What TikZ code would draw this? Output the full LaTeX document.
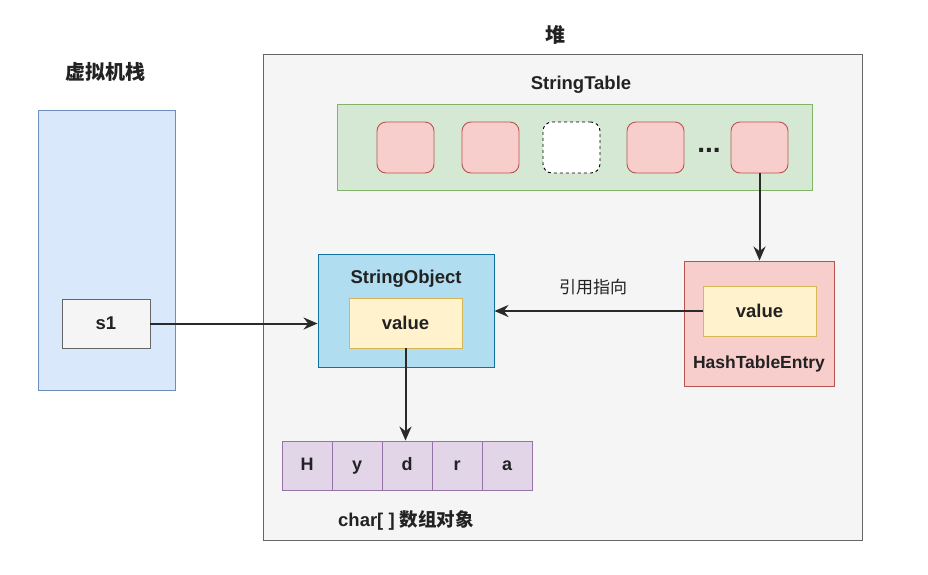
\documentclass[tikz,border=0pt]{standalone}
\usepackage{fontspec}
\setmainfont{Liberation Sans}
\newfontfamily\cjk{Noto Sans CJK SC}
\usetikzlibrary{arrows.meta}
\definecolor{stackfill}{HTML}{DAE8FC}
\definecolor{stackline}{HTML}{6C8EBF}
\definecolor{grayfill}{HTML}{F5F5F5}
\definecolor{grayline}{HTML}{666666}
\definecolor{greenfill}{HTML}{D5E8D4}
\definecolor{greenline}{HTML}{82B366}
\definecolor{pinkfill}{HTML}{F8CECC}
\definecolor{pinkline}{HTML}{B85450}
\definecolor{bluefill}{HTML}{B1DDF0}
\definecolor{blueline}{HTML}{10739E}
\definecolor{yelfill}{HTML}{FFF2CC}
\definecolor{yelline}{HTML}{D6B656}
\definecolor{purfill}{HTML}{E1D5E7}
\definecolor{purline}{HTML}{9673A6}
\definecolor{txt}{HTML}{222222}
\definecolor{arr}{HTML}{2A2A2A}
\tikzset{
  lbl/.style={font=\fontsize{18.5}{20}\selectfont\bfseries, text=txt},
  cjklbl/.style={font=\fontsize{20}{22}\selectfont\cjk\bfseries, text=txt},
  conn/.style={draw=arr, line width=2pt, -{Stealth[length=14pt,width=12pt]}},
  slot/.style={draw=pinkline, fill=pinkfill, line width=0.9pt, rounded corners=9pt, minimum width=57pt, minimum height=51pt, inner sep=0pt},
  cell/.style={draw=purline, fill=purfill, line width=0.9pt, minimum width=50pt, minimum height=49pt, inner sep=0pt, text height=13pt, text depth=4pt, font=\fontsize{18}{20}\selectfont\bfseries, text=txt},
  plain/.style={line width=0.9pt, inner sep=0pt},
}
\begin{document}
\begin{tikzpicture}[x=1pt,y=-1pt]
\useasboundingbox (0,0) rectangle (928,574);
\fill[white] (0,0) rectangle (928,574);
% stack
\node[cjklbl] (stacktitle) at (105,72) {虚拟机栈};
\node[plain, draw=stackline, fill=stackfill, minimum width=137pt, minimum height=280pt] (stack) at (106.5,250) {};
\node[plain, draw=grayline, fill=grayfill, minimum width=88pt, minimum height=49pt, lbl] (s1) at (106,323.5) {s1};
% heap
\node[cjklbl] (heaptitle) at (555,35) {堆};
\node[plain, draw=grayline, fill=grayfill, minimum width=599pt, minimum height=486pt] (heap) at (562.5,297) {};
\node[lbl] (sttitle) at (581,85) {StringTable};
\node[plain, draw=greenline, fill=greenfill, minimum width=475pt, minimum height=86pt] (st) at (574.5,147) {};
\node[slot] (p1) at (405.5,147.5) {};
\node[slot] (p2) at (490.5,147.5) {};
\node[slot, draw=black, fill=white, dashed] (p3) at (571.5,147.5) {};
\node[slot] (p4) at (655.5,147.5) {};
\node[lbl, font=\fontsize{28}{28}\selectfont\bfseries] (dots) at (709,150) {...};
\node[slot] (p5) at (759.5,147.5) {};
% string object
\node[plain, draw=blueline, fill=bluefill, minimum width=176pt, minimum height=113pt] (so) at (406,310.5) {};
\node[lbl] (sotitle) at (406,279) {StringObject};
\node[plain, draw=yelline, fill=yelfill, minimum width=113pt, minimum height=50pt, lbl] (sov) at (405.5,323) {value};
% hash table entry
\node[plain, draw=pinkline, fill=pinkfill, minimum width=150pt, minimum height=125pt] (hte) at (759,323.5) {};
\node[plain, draw=yelline, fill=yelfill, minimum width=113pt, minimum height=50pt, lbl] (htev) at (759.5,311) {value};
\node[lbl, font=\fontsize{17.5}{19}\selectfont\bfseries] (htetitle) at (759,364) {HashTableEntry};
\node[font=\fontsize{17}{19}\selectfont\cjk, text=txt] (reflbl) at (593,287) {引用指向};
% char array
\node[cell] (c1) at (307,465.5) {H};
\node[cell] (c2) at (357,465.5) {y};
\node[cell] (c3) at (407,465.5) {d};
\node[cell] (c4) at (457,465.5) {r};
\node[cell] (c5) at (507,465.5) {a};
\node[lbl] (arrlbl) at (406,520) {char[ ] {\cjk 数组对象}};
% connectors
\draw[conn] (s1.east) -- (so.west |- s1.east);
\draw[conn] (htev.west) -- (so.east |- htev.west);
\draw[conn] (p5.south) -- (hte.north -| p5.south);
\draw[conn] (sov.south) -- (c3.north -| sov.south);
\end{tikzpicture}
\end{document}
